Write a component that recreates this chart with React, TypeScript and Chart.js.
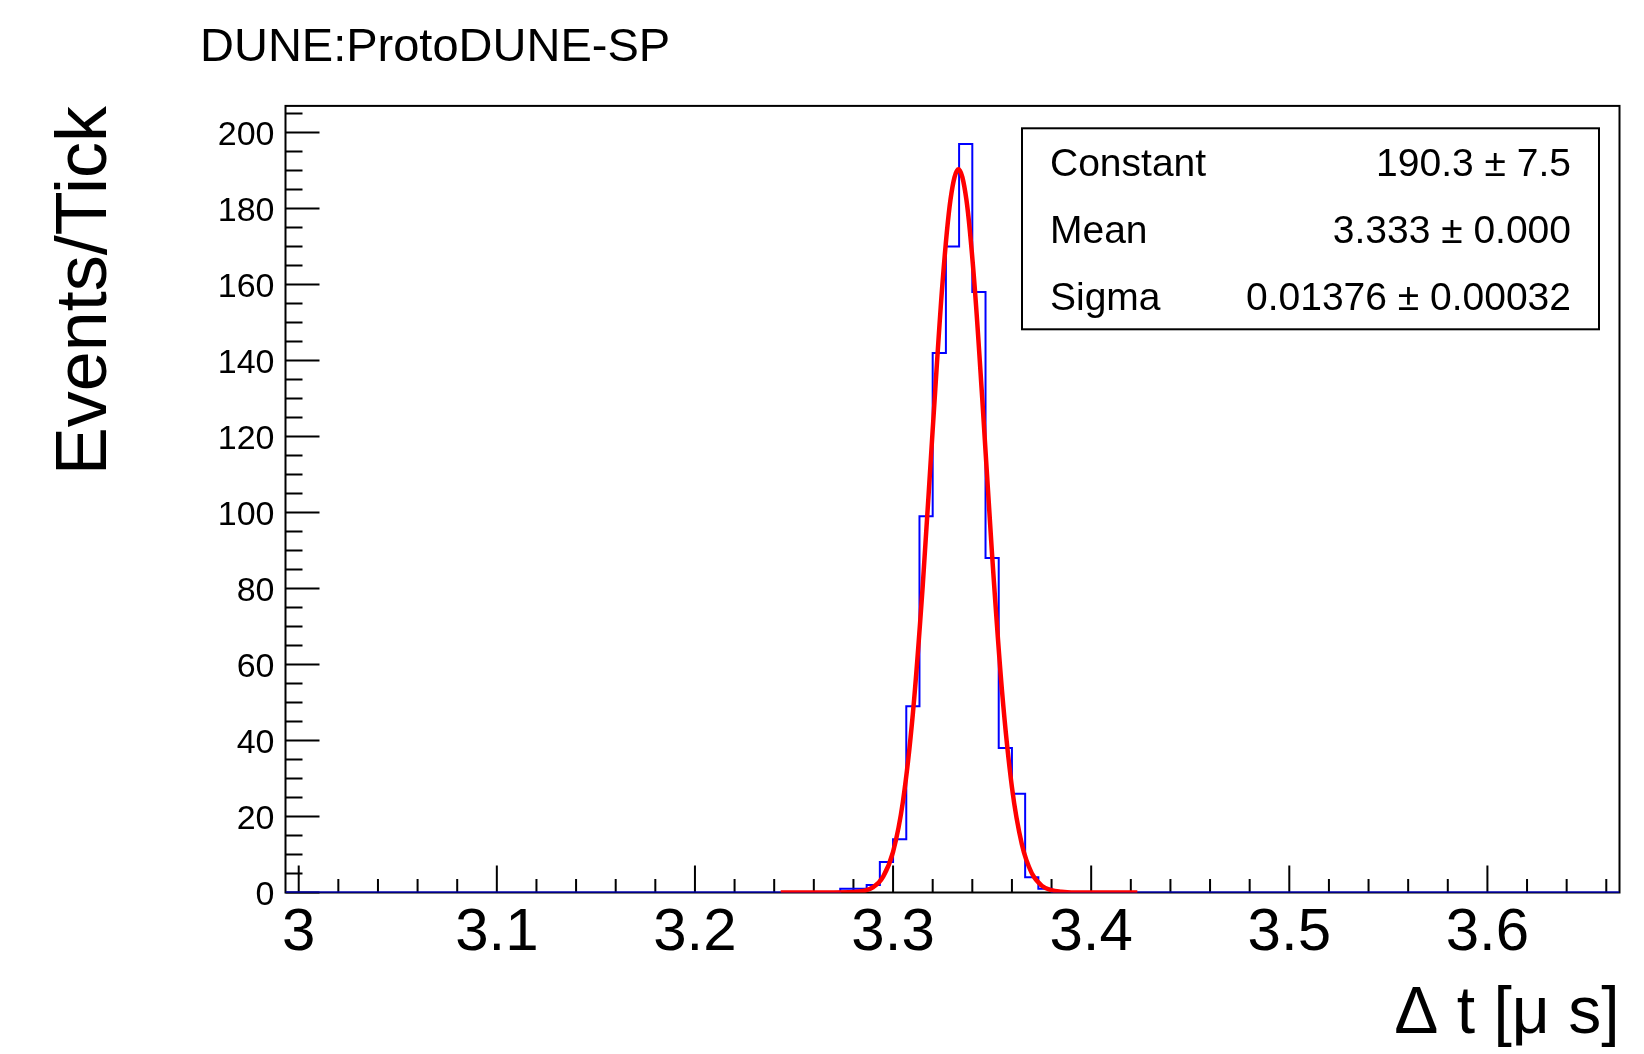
import React, { useEffect, useRef } from 'react';
import { Chart, registerables } from 'chart.js';

Chart.register(...registerables);

const FONT = "'Liberation Sans', Arial, Helvetica, sans-serif";

const plotTitle = 'DUNE:ProtoDUNE-SP';
const xAxisTitle = 'Δ t [μ s]';
const yAxisTitle = 'Events/Tick';

const xRange = [2.99333, 3.66667];
const yRange = [0, 207];

const xTickValues = [3.0, 3.1, 3.2, 3.3, 3.4, 3.5, 3.6];
const xTickLabels = ['3', '3.1', '3.2', '3.3', '3.4', '3.5', '3.6'];
const xMinorStep = 0.02;

const yTickValues = [0, 20, 40, 60, 80, 100, 120, 140, 160, 180, 200];
const yTickLabels = ['0', '20', '40', '60', '80', '100', '120', '140', '160', '180', '200'];
const yMinorStep = 5;

// histogram: left edges of the non-empty bins (+ final right edge) and counts
const binEdges = [
  3.27333, 3.28, 3.28667, 3.29333, 3.3, 3.30667, 3.31333, 3.32, 3.32667,
  3.33333, 3.34, 3.34667, 3.35333, 3.36, 3.36667, 3.37333, 3.38,
];
const binCounts = [1, 1, 2, 8, 14, 49, 99, 142, 170, 197, 158, 88, 38, 26, 4, 1];

// fitted gaussian curve
const fitX = [
  3.2433, 3.26, 3.27, 3.28, 3.285, 3.29, 3.295, 3.3, 3.305, 3.31, 3.315, 3.32,
  3.325, 3.329, 3.333, 3.337, 3.341, 3.345, 3.35, 3.355, 3.36, 3.365, 3.37,
  3.375, 3.38, 3.385, 3.39, 3.4, 3.4233,
];
const fitY = [
  0, 0, 0, 0.1, 0.4, 1.4, 4.2, 10.7, 24.0, 47.1, 80.9, 121.8,
  160.7, 182.4, 190.3, 182.4, 160.7, 130.1, 88.7, 53.0, 27.7, 12.7, 5.1,
  1.8, 0.6, 0.2, 0, 0, 0,
];

const statNames = ['Constant', 'Mean', 'Sigma'];
const statValues = ['190.3 ± 7.5', '3.333 ± 0.000', '0.01376 ± 0.00032'];

const rootPlugin = {
  id: 'rootStyle',
  beforeDatasetsDraw(chart: any) {
    const { ctx, chartArea: a, scales } = chart;
    const x = scales.x;
    const y = scales.y;
    ctx.save();
    ctx.strokeStyle = '#000';
    ctx.lineWidth = 2;
    ctx.strokeRect(a.left, a.top, a.right - a.left, a.bottom - a.top);
    ctx.beginPath();
    // y major ticks
    for (const v of yTickValues) {
      const py = y.getPixelForValue(v);
      ctx.moveTo(a.left, py);
      ctx.lineTo(a.left + 34, py);
    }
    // y minor ticks
    const yi0 = Math.ceil(yRange[0] / yMinorStep - 1e-6);
    const yi1 = Math.floor(yRange[1] / yMinorStep + 1e-6);
    for (let i = yi0; i <= yi1; i++) {
      if (i % 4 === 0) continue;
      const py = y.getPixelForValue(i * yMinorStep);
      ctx.moveTo(a.left, py);
      ctx.lineTo(a.left + 17, py);
    }
    // x major ticks
    for (const v of xTickValues) {
      const px = x.getPixelForValue(v);
      ctx.moveTo(px, a.bottom);
      ctx.lineTo(px, a.bottom - 27);
    }
    // x minor ticks
    const xi0 = Math.ceil(xRange[0] / xMinorStep - 1e-6);
    const xi1 = Math.floor(xRange[1] / xMinorStep + 1e-6);
    for (let i = xi0; i <= xi1; i++) {
      if (i % 5 === 0) continue;
      const px = x.getPixelForValue(i * xMinorStep);
      ctx.moveTo(px, a.bottom);
      ctx.lineTo(px, a.bottom - 13.5);
    }
    ctx.stroke();
    ctx.restore();
  },
  afterDatasetsDraw(chart: any) {
    const { ctx } = chart;
    ctx.save();
    const bx = 1022, by = 128.3, bw = 577, bh = 201;
    ctx.fillStyle = '#fff';
    ctx.fillRect(bx, by, bw, bh);
    ctx.strokeStyle = '#000';
    ctx.lineWidth = 2;
    ctx.strokeRect(bx, by, bw, bh);
    ctx.fillStyle = '#000';
    ctx.font = `39px ${FONT}`;
    ctx.textBaseline = 'alphabetic';
    const rowH = bh / statNames.length;
    statNames.forEach((name, i) => {
      const base = by + rowH * (i + 0.5) + 14;
      ctx.textAlign = 'left';
      ctx.fillText(name, bx + 28, base);
      ctx.textAlign = 'right';
      ctx.fillText(statValues[i], bx + bw - 28, base);
    });
    ctx.restore();
  },
  afterDraw(chart: any) {
    const { ctx } = chart;
    ctx.save();
    ctx.fillStyle = '#000';
    ctx.font = `47px ${FONT}`;
    ctx.textAlign = 'left';
    ctx.textBaseline = 'alphabetic';
    ctx.fillText(plotTitle, 200, 60.5);
    ctx.restore();
  },
};

export default function App() {
  const ref = useRef<HTMLCanvasElement>(null);

  useEffect(() => {
    document.body.style.margin = '0';
    const canvas = ref.current;
    if (!canvas) return;

    const histPoints = [
      { x: xRange[0], y: 0 },
      ...binCounts.map((c, i) => ({ x: binEdges[i], y: c })),
      { x: binEdges[binEdges.length - 1], y: 0 },
      { x: xRange[1], y: 0 },
    ];
    const fitPoints = fitX.map((xv, i) => ({ x: xv, y: fitY[i] }));

    const chart = new Chart(canvas, {
      type: 'line',
      data: {
        datasets: [
          {
            label: 'fit',
            data: fitPoints,
            borderColor: '#ff0000',
            borderWidth: 4.5,
            pointRadius: 0,
            fill: false,
            cubicInterpolationMode: 'monotone',
          },
          {
            label: 'hist',
            data: histPoints,
            borderColor: '#0000ff',
            borderWidth: 2,
            pointRadius: 0,
            fill: false,
            stepped: true,
          },
        ],
      },
      options: {
        responsive: false,
        animation: false,
        devicePixelRatio: 1,
        events: [],
        layout: { padding: { left: 0, right: 24.5, top: 105.9, bottom: 0 } },
        plugins: {
          legend: { display: false },
          tooltip: { enabled: false },
          title: { display: false },
        },
        scales: {
          x: {
            type: 'linear',
            position: 'bottom',
            min: xRange[0],
            max: xRange[1],
            bounds: 'data',
            afterFit: (s: any) => {
              s.height = 161.5;
            },
            afterBuildTicks: (s: any) => {
              s.ticks = xTickValues.map((v) => ({ value: v }));
            },
            grid: { display: false, drawTicks: false },
            border: { display: false },
            ticks: {
              autoSkip: false,
              maxRotation: 0,
              minRotation: 0,
              padding: 5,
              color: '#000',
              font: { family: FONT, size: 60 },
              callback: (_v: any, i: number) => xTickLabels[i],
            },
            title: {
              display: true,
              text: xAxisTitle,
              align: 'end',
              color: '#000',
              font: { family: FONT, size: 66 },
              padding: { top: 0, bottom: 0 },
            },
          },
          y: {
            type: 'linear',
            position: 'left',
            min: yRange[0],
            max: yRange[1],
            bounds: 'data',
            afterFit: (s: any) => {
              s.width = 285.5;
            },
            afterBuildTicks: (s: any) => {
              s.ticks = yTickValues.map((v) => ({ value: v }));
            },
            grid: { display: false, drawTicks: false },
            border: { display: false },
            ticks: {
              autoSkip: false,
              padding: 11,
              labelOffset: 3,
              color: '#000',
              font: { family: FONT, size: 34 },
              callback: (_v: any, i: number) => yTickLabels[i],
            },
            title: {
              display: true,
              text: yAxisTitle,
              align: 'end',
              color: '#000',
              font: { family: FONT, size: 72 },
              padding: { top: 43, bottom: 0 },
            },
          },
        },
      } as any,
      plugins: [rootPlugin],
    });

    return () => chart.destroy();
  }, []);

  return (
    <canvas
      ref={ref}
      width={1644}
      height={1054}
      style={{ display: 'block', width: '1644px', height: '1054px' }}
    />
  );
}
